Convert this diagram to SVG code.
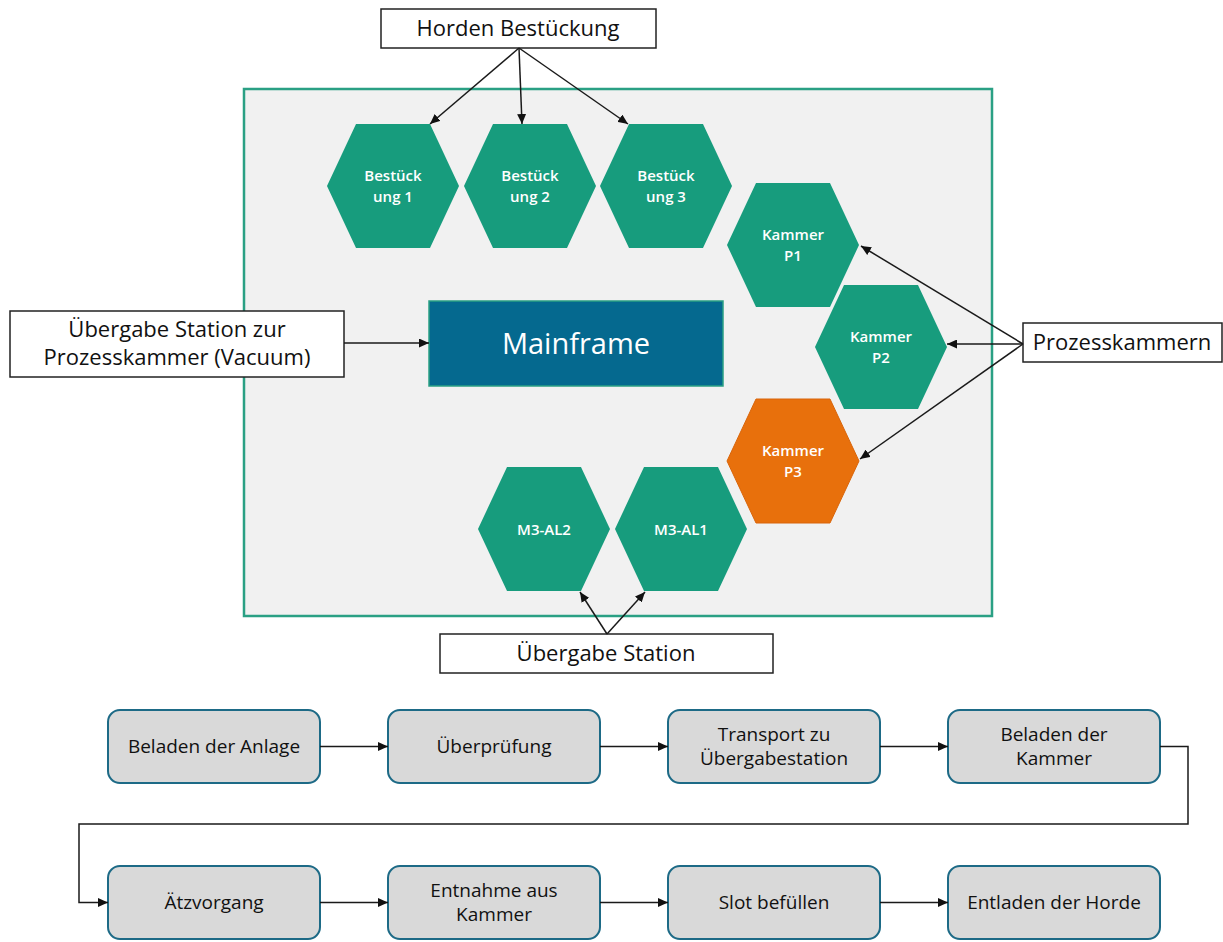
<svg xmlns="http://www.w3.org/2000/svg" width="1223" height="942" viewBox="0 0 1223 942">
  <style>
    .label { font-family: "Open Sans", "Noto Sans", "Liberation Sans", sans-serif; fill: #111; text-anchor: middle; }
    .ann { font-size: 22px; }
    .hextxt { font-family: "Open Sans", "Noto Sans", sans-serif; font-size: 15px; font-weight: 600; fill: #ffffff; text-anchor: middle; }
    .flowtxt { font-size: 19px; }
    .box { fill: #ffffff; stroke: #222; stroke-width: 1.5; }
    .step { fill: #d9d9d9; stroke: #1d6a86; stroke-width: 2; }
    .green { fill: #179c7d; }
    .orange { fill: #e8700c; stroke: #d9650a; stroke-width: 1; }
    .wire { fill: none; stroke: #1a1a1a; stroke-width: 1.5; }
  </style>
  <defs>
    <marker id="arrow" markerUnits="userSpaceOnUse" markerWidth="11" markerHeight="9" refX="10" refY="4.5" orient="auto">
      <path d="M0,0 L10,4.5 L0,9 z" fill="#111"/>
    </marker>
    <polygon id="hex" points="-66,0 -37,-62 37,-62 66,0 37,62 -37,62"/>
  </defs>

  <!-- plant frame -->
  <g id="frame">
    <rect x="244" y="89" width="748" height="527" fill="#f1f1f1" stroke="#2aa084" stroke-width="2.5"/>
  </g>

  <!-- loading stations -->
  <g id="bestueckung1">
    <use href="#hex" x="393" y="186" class="green"/>
    <text class="hextxt" x="393" y="181">Bestück</text>
    <text class="hextxt" x="393" y="202">ung 1</text>
  </g>
  <g id="bestueckung2">
    <use href="#hex" x="530" y="186" class="green"/>
    <text class="hextxt" x="530" y="181">Bestück</text>
    <text class="hextxt" x="530" y="202">ung 2</text>
  </g>
  <g id="bestueckung3">
    <use href="#hex" x="666" y="186" class="green"/>
    <text class="hextxt" x="666" y="181">Bestück</text>
    <text class="hextxt" x="666" y="202">ung 3</text>
  </g>

  <!-- process chambers -->
  <g id="kammer-p1">
    <use href="#hex" x="793" y="245" class="green"/>
    <text class="hextxt" x="793" y="240">Kammer</text>
    <text class="hextxt" x="793" y="261">P1</text>
  </g>
  <g id="kammer-p2">
    <use href="#hex" x="881" y="347" class="green"/>
    <text class="hextxt" x="881" y="342">Kammer</text>
    <text class="hextxt" x="881" y="363">P2</text>
  </g>
  <g id="kammer-p3">
    <use href="#hex" x="793" y="461" class="orange"/>
    <text class="hextxt" x="793" y="456">Kammer</text>
    <text class="hextxt" x="793" y="477">P3</text>
  </g>

  <!-- load locks -->
  <g id="m3-al2">
    <use href="#hex" x="544" y="529" class="green"/>
    <text class="hextxt" x="544" y="535">M3-AL2</text>
  </g>
  <g id="m3-al1">
    <use href="#hex" x="681" y="529" class="green"/>
    <text class="hextxt" x="681" y="535">M3-AL1</text>
  </g>

  <!-- transfer robot -->
  <g id="mainframe">
    <rect x="429" y="301" width="294" height="85" fill="#05698f" stroke="#2aa084" stroke-width="1.5"/>
    <text x="576" y="354" font-family="Open Sans, Noto Sans, sans-serif" font-size="29" fill="#ffffff" text-anchor="middle">Mainframe</text>
  </g>

  <!-- annotation labels -->
  <g id="horden-bestueckung">
    <rect class="box" x="381" y="9" width="275" height="39"/>
    <text class="label ann" x="518" y="36">Horden Bestückung</text>
  </g>
  <g id="prozesskammern">
    <rect class="box" x="1023" y="323" width="199" height="39"/>
    <text class="label ann" x="1122" y="350">Prozesskammern</text>
  </g>
  <g id="uebergabe-vacuum">
    <rect class="box" x="10" y="311" width="334" height="66"/>
    <text class="label ann" x="177" y="337">Übergabe Station zur</text>
    <text class="label ann" x="177" y="365">Prozesskammer (Vacuum)</text>
  </g>
  <g id="uebergabe-station">
    <rect class="box" x="440" y="634" width="333" height="39"/>
    <text class="label ann" x="606" y="661">Übergabe Station</text>
  </g>

  <!-- process steps -->
  <g id="step1">
    <rect class="step" x="108" y="710" width="212" height="73" rx="12"/>
    <text class="label flowtxt" x="214" y="753">Beladen der Anlage</text>
  </g>
  <g id="step2">
    <rect class="step" x="388" y="710" width="212" height="73" rx="12"/>
    <text class="label flowtxt" x="494" y="753">Überprüfung</text>
  </g>
  <g id="step3">
    <rect class="step" x="668" y="710" width="212" height="73" rx="12"/>
    <text class="label flowtxt" x="774" y="741">Transport zu</text>
    <text class="label flowtxt" x="774" y="765">Übergabestation</text>
  </g>
  <g id="step4">
    <rect class="step" x="948" y="710" width="212" height="73" rx="12"/>
    <text class="label flowtxt" x="1054" y="741">Beladen der</text>
    <text class="label flowtxt" x="1054" y="765">Kammer</text>
  </g>
  <g id="step5">
    <rect class="step" x="108" y="866" width="212" height="73" rx="12"/>
    <text class="label flowtxt" x="214" y="909">Ätzvorgang</text>
  </g>
  <g id="step6">
    <rect class="step" x="388" y="866" width="212" height="73" rx="12"/>
    <text class="label flowtxt" x="494" y="897">Entnahme aus</text>
    <text class="label flowtxt" x="494" y="921">Kammer</text>
  </g>
  <g id="step7">
    <rect class="step" x="668" y="866" width="212" height="73" rx="12"/>
    <text class="label flowtxt" x="774" y="909">Slot befüllen</text>
  </g>
  <g id="step8">
    <rect class="step" x="948" y="866" width="212" height="73" rx="12"/>
    <text class="label flowtxt" x="1054" y="909">Entladen der Horde</text>
  </g>

  <!-- connectors -->
  <g id="connectors" class="wire" marker-end="url(#arrow)">
    <path d="M519,48 L430,124"/>
    <path d="M519,48 L522,124"/>
    <path d="M519,48 L628,124"/>
    <path d="M1023,344 L861,246"/>
    <path d="M1023,344 L947,344"/>
    <path d="M1023,344 L860,459"/>
    <path d="M344,343 L429,343"/>
    <path d="M607,634 L580,592"/>
    <path d="M607,634 L645,592"/>
    <path d="M320,746.5 L388,746.5"/>
    <path d="M600,746.5 L668,746.5"/>
    <path d="M880,746.5 L948,746.5"/>
    <path d="M1160,746.5 H1188 V824 H79 V902.5 H108"/>
    <path d="M320,902.5 L388,902.5"/>
    <path d="M600,902.5 L668,902.5"/>
    <path d="M880,902.5 L948,902.5"/>
  </g>
</svg>
